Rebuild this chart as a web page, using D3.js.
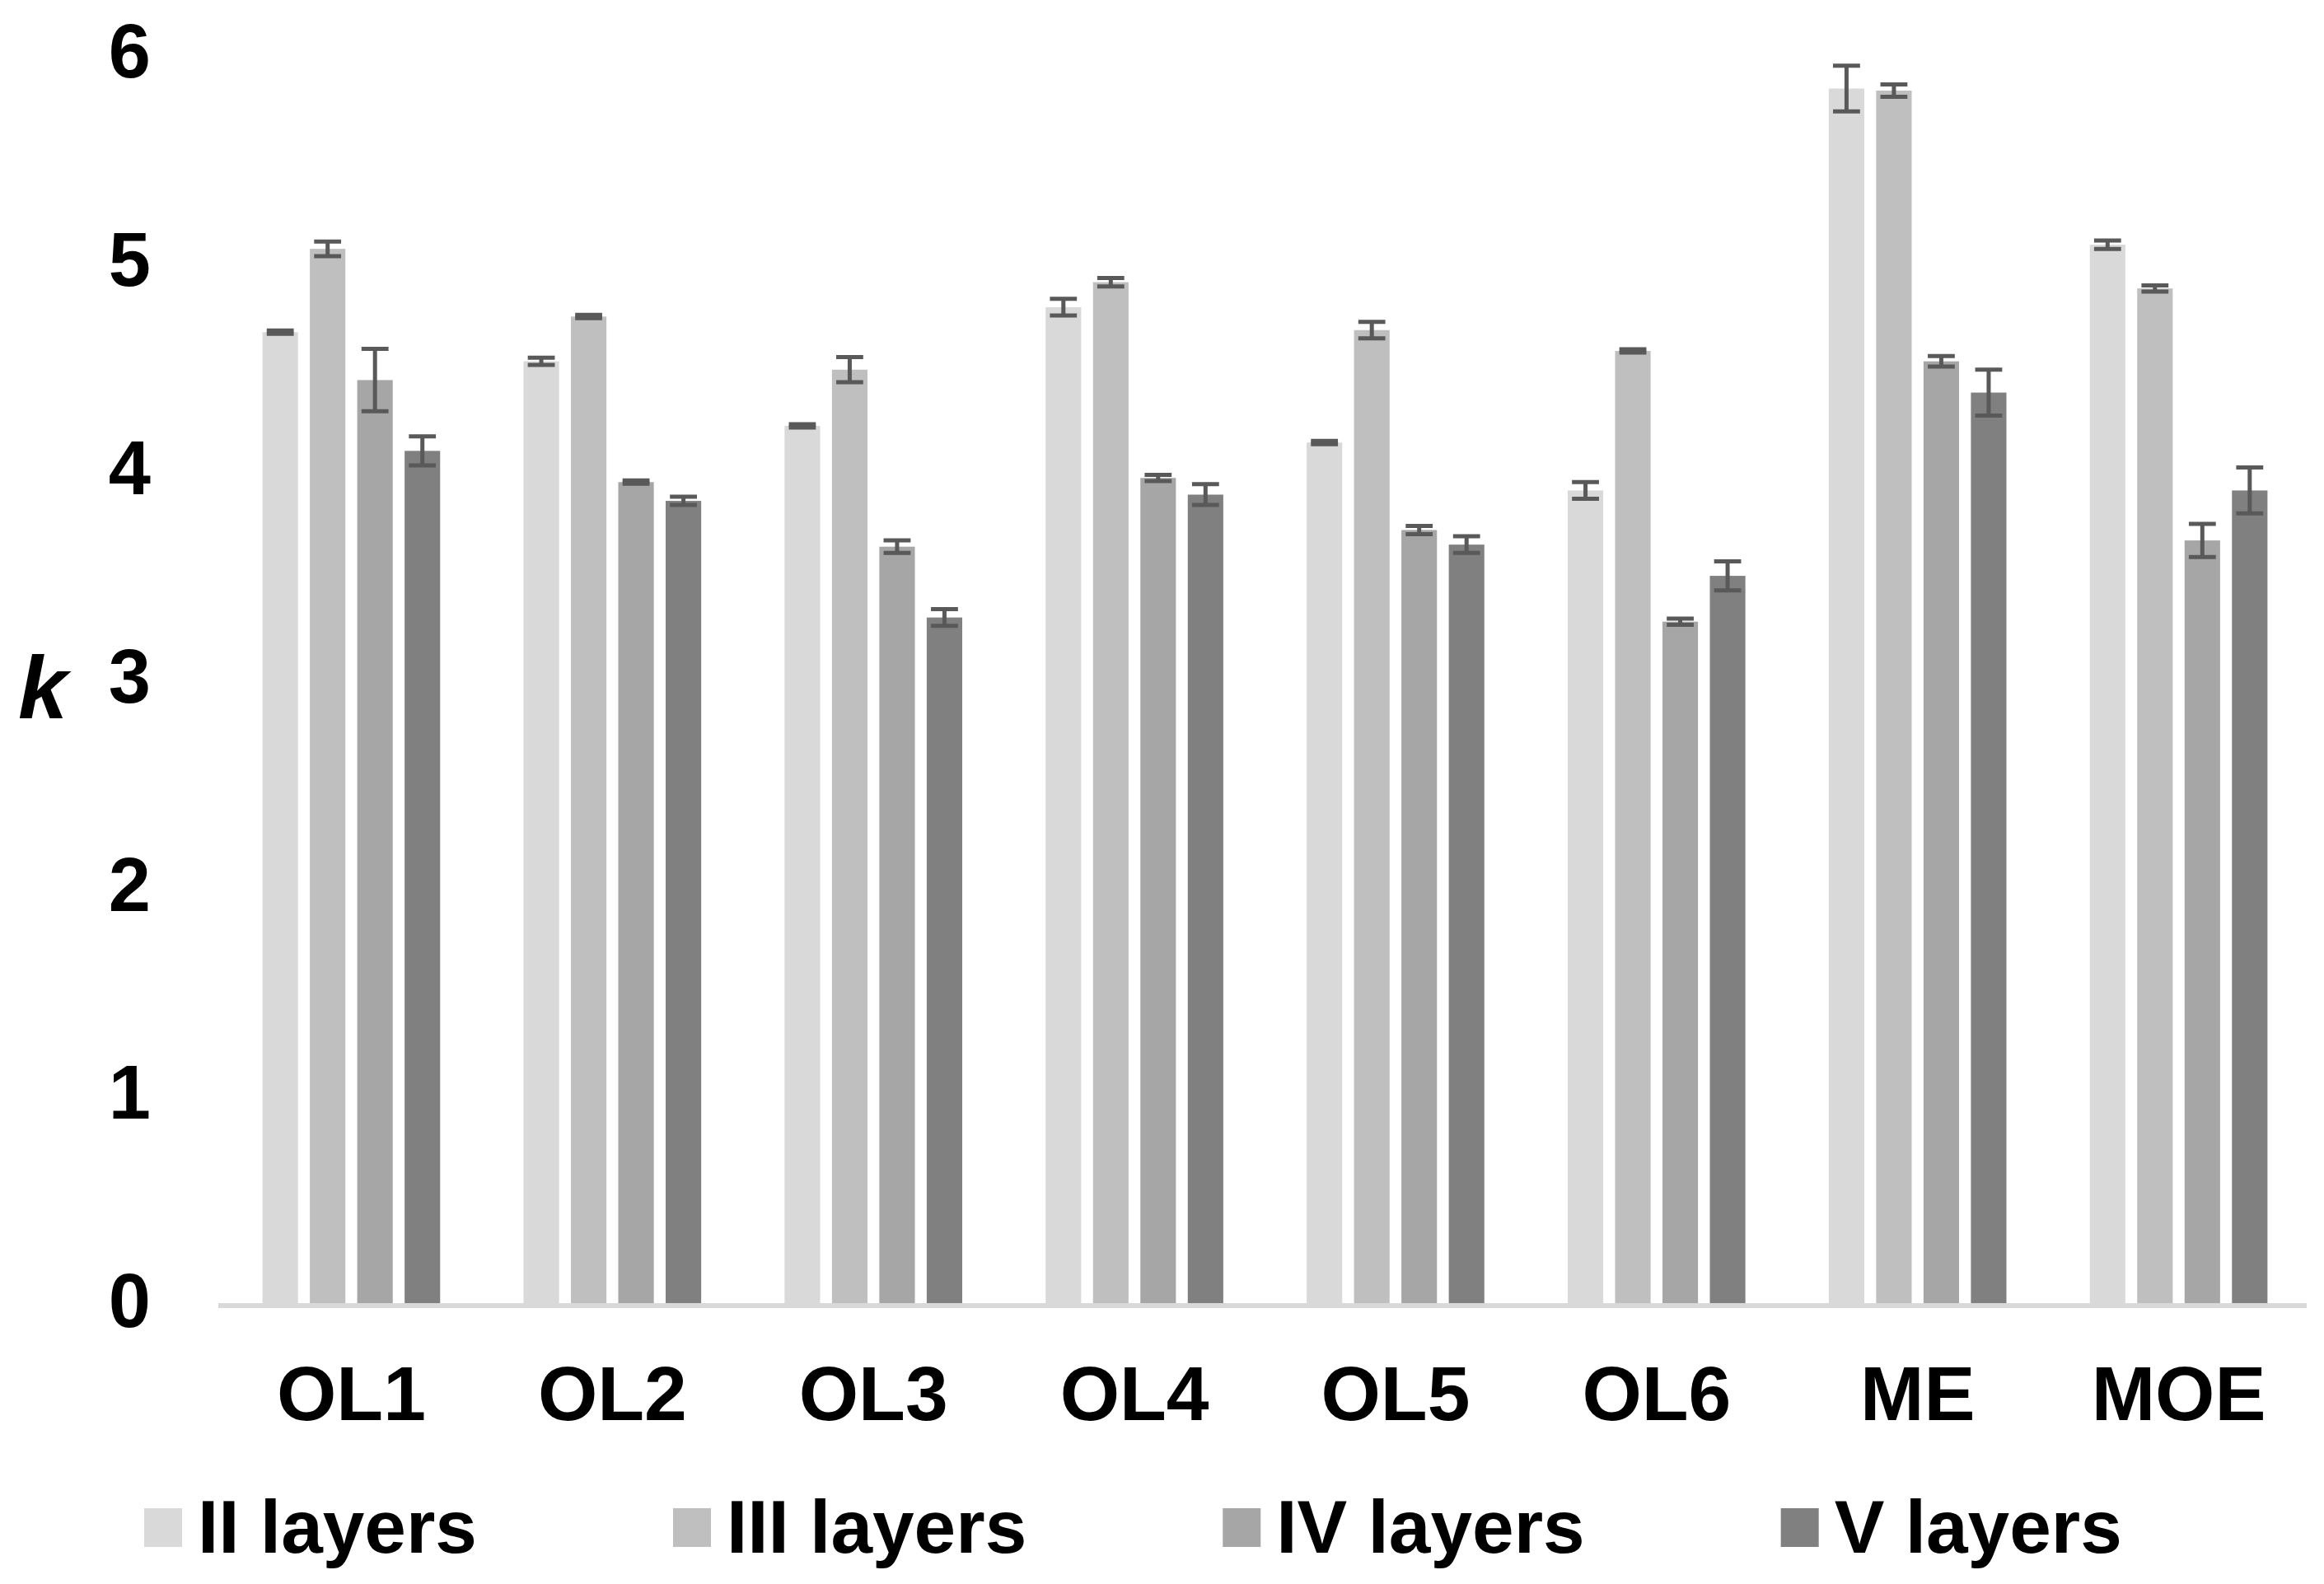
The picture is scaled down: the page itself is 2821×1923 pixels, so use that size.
<!DOCTYPE html>
<html>
<head>
<meta charset="utf-8">
<script src="https://cdn.jsdelivr.net/npm/d3@7"></script>
<style>
	body { margin: 0; background: #fff; }
	text { font-family: "Liberation Sans", Arial, sans-serif; font-weight: bold; fill: #000; }
</style>
</head>
<body>
<div id="chart-area"></div>
<script>

// categories on the x axis
const categories = ["OL1", "OL2", "OL3", "OL4", "OL5", "OL6", "ME", "MOE"];

// series (legend entries)
const seriesNames = ["II layers", "III layers", "IV layers", "V layers"];
const seriesColors = ["#d9d9d9", "#bfbfbf", "#a6a6a6", "#808080"];

// mean k values, one array per series
const valuesII  = [4.67, 4.53, 4.22, 4.79, 4.14, 3.91, 5.84, 5.09];
const valuesIII = [5.07, 4.745, 4.49, 4.91, 4.68, 4.58, 5.83, 4.88];
const valuesIV  = [4.44, 3.95, 3.64, 3.97, 3.72, 3.28, 4.53, 3.67];
const valuesV   = [4.10, 3.86, 3.30, 3.89, 3.65, 3.50, 4.38, 3.91];

// error bar half-lengths, one array per series
const errII  = [0.008, 0.017, 0.008, 0.04, 0.008, 0.04, 0.11, 0.02];
const errIII = [0.035, 0.008, 0.06, 0.02, 0.04, 0.008, 0.03, 0.015];
const errIV  = [0.15, 0.008, 0.03, 0.015, 0.02, 0.015, 0.025, 0.08];
const errV   = [0.07, 0.02, 0.04, 0.05, 0.04, 0.07, 0.11, 0.11];

// y axis tick values
const yTicks = [0, 1, 2, 3, 4, 5, 6];

const allValues = [valuesII, valuesIII, valuesIV, valuesV];
const allErrors = [errII, errIII, errIV, errV];

class GroupedBars {

	constructor(parentElement) {
		this._parentElement = parentElement;

		// flatten into one row per bar
		this._displayData = [];
		seriesNames.forEach((s, i) => {
			categories.forEach((c, j) => {
				this._displayData.push({ cat: c, series: s, idx: i, value: allValues[i][j], err: allErrors[i][j] });
			});
		});
	}

	initVis() {
		let vis = this;

		vis.width = 2821;
		vis.height = 1923;
		vis.margin = { top: 67, right: 18, bottom: 339, left: 268 };

		vis.svg = d3.select("#" + vis._parentElement).append("svg")
			.attr("width", vis.width)
			.attr("height", vis.height);

		// scales
		vis.x = d3.scaleBand()
			.domain(categories)
			.range([vis.margin.left, vis.width - vis.margin.right])
			.padding(0);

		vis.xInner = d3.scaleBand()
			.domain(seriesNames)
			.range([0, vis.x.bandwidth()])
			.paddingInner(0.25)
			.paddingOuter(0.88);

		vis.y = d3.scaleLinear()
			.domain([0, 6])
			.range([vis.height - vis.margin.bottom, vis.margin.top]);

		vis.color = d3.scaleOrdinal().domain(seriesNames).range(seriesColors);

		// bars
		vis.svg.append("g").selectAll("rect")
			.data(vis._displayData)
			.enter()
			.append("rect")
			.attr("x", d => vis.x(d.cat) + vis.xInner(d.series))
			.attr("y", d => vis.y(d.value))
			.attr("width", vis.xInner.bandwidth())
			.attr("height", d => vis.y(0) - vis.y(d.value))
			.attr("fill", d => vis.color(d.series));

		// horizontal axis line
		vis.svg.append("line")
			.attr("x1", vis.margin.left - 3)
			.attr("x2", vis.width - vis.margin.right - 3)
			.attr("y1", vis.y(0) + 1)
			.attr("y2", vis.y(0) + 1)
			.attr("stroke", "#d9d9d9")
			.attr("stroke-width", 6);

		// error bars
		const capHalf = vis.xInner.bandwidth() * 0.38;
		const errG = vis.svg.append("g")
			.attr("stroke", "#595959")
			.attr("stroke-width", 5);

		vis._displayData.forEach(d => {
			const cx = vis.x(d.cat) + vis.xInner(d.series) + vis.xInner.bandwidth() / 2;
			const yTop = vis.y(d.value + d.err);
			const yBot = vis.y(d.value - d.err);
			errG.append("line").attr("x1", cx).attr("x2", cx).attr("y1", yTop).attr("y2", yBot);
			errG.append("line").attr("x1", cx - capHalf).attr("x2", cx + capHalf).attr("y1", yTop).attr("y2", yTop);
			errG.append("line").attr("x1", cx - capHalf).attr("x2", cx + capHalf).attr("y1", yBot).attr("y2", yBot);
		});

		// y axis labels (no axis line, no ticks)
		const yAxis = d3.axisLeft(vis.y)
			.tickValues(yTicks)
			.tickSize(0)
			.tickPadding(0)
			.tickFormat(d3.format("d"));

		vis.svg.append("g")
			.attr("transform", "translate(183,0)")
			.call(yAxis)
			.call(g => g.select(".domain").remove())
			.call(g => g.selectAll("text")
				.attr("font-family", null)
				.attr("font-size", 92)
				.attr("dy", "0.29em")
				.attr("fill", "#000"));

		// x axis category labels
		const xAxis = d3.axisBottom(vis.x).tickSize(0).tickPadding(0);

		vis.svg.append("g")
			.attr("transform", "translate(0," + (vis.y(0) + 74) + ")")
			.call(xAxis)
			.call(g => g.select(".domain").remove())
			.call(g => g.selectAll("text")
				.attr("font-family", null)
				.attr("font-size", 93)
				.attr("fill", "#000"));

		// axis title
		vis.svg.append("text")
			.attr("x", 52)
			.attr("y", 872)
			.attr("text-anchor", "middle")
			.attr("font-style", "italic")
			.attr("font-size", 108)
			.text("k");

		// legend, laid out left to right
		const legend = vis.svg.append("g").attr("transform", "translate(175,1853)");
		let xPos = 0;
		seriesNames.forEach((s, i) => {
			const item = legend.append("g").attr("transform", "translate(" + xPos + ",0)");
			item.append("rect")
				.attr("x", 0)
				.attr("y", -22)
				.attr("width", 46)
				.attr("height", 47)
				.attr("fill", seriesColors[i]);
			const label = item.append("text")
				.attr("x", 65)
				.attr("y", 0)
				.attr("dy", "0.35em")
				.attr("font-size", 91)
				.text(s);
			xPos += 65 + label.node().getComputedTextLength() + 238;
		});
	}
}

const chart = new GroupedBars("chart-area");
chart.initVis();

</script>
</body>
</html>
